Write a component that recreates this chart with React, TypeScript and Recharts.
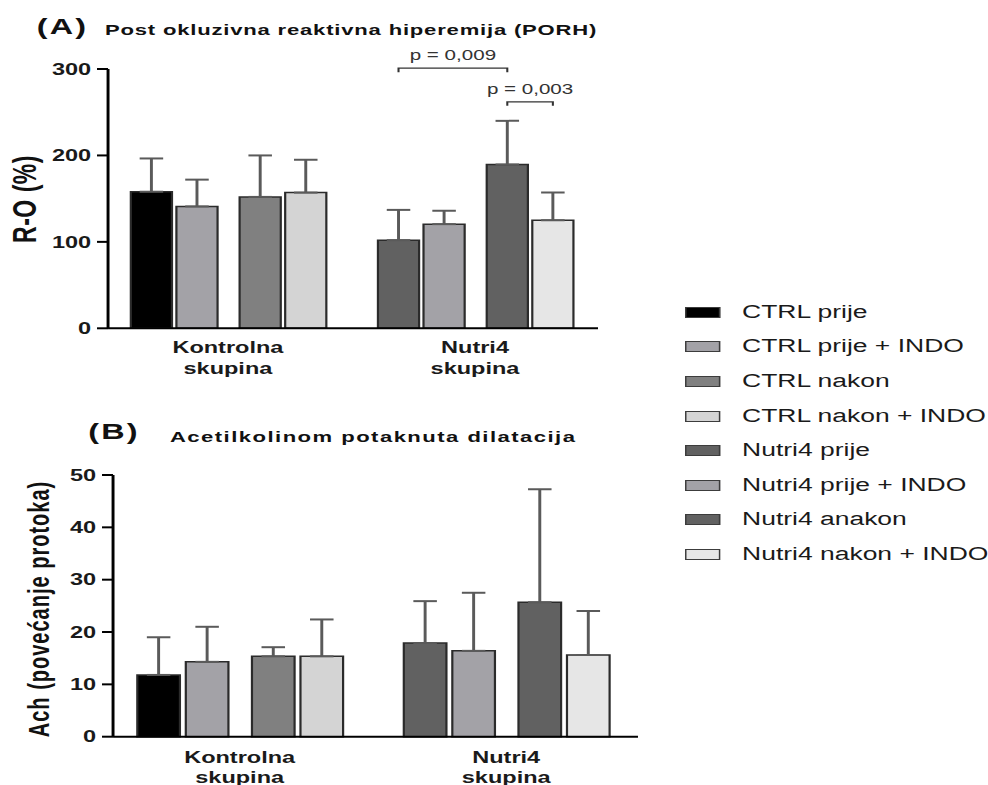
import React from "react"
import { BarChart, Bar, XAxis, YAxis, ErrorBar, Cell, Rectangle } from "recharts"

/* the reference figure is stretched horizontally, so the whole
   layout is drawn narrow and widened with scaleX */
const STRETCH = 1.47
const FONT = '"Liberation Sans", Arial, Helvetica, sans-serif'

/* ---------------------------------
   Data
---------------------------------- */
const groupKeys = ["Kontrolna skupina", "Nutri4 skupina"]
const groupLines = [
  ["Kontrolna", "skupina"],
  ["Nutri4", "skupina"],
]

const ctrlNames = ["CTRL prije", "CTRL prije + INDO", "CTRL nakon", "CTRL nakon + INDO"]
const nutriNames = ["Nutri4 prije", "Nutri4 prije + INDO", "Nutri4 anakon", "Nutri4 nakon + INDO"]
const ctrlColors = ["#000000", "#a3a2a7", "#808080", "#d4d4d4"]
const nutriColors = ["#616161", "#a3a2a7", "#616161", "#e6e6e6"]

// (A) Post okluzivna reaktivna hiperemija, R-O (%)
const porhCtrl = [158, 141, 152, 157]
const porhCtrlSd = [38.5, 31, 48, 38]
const porhNutri = [102, 120.5, 189.5, 125]
const porhNutriSd = [35, 15.5, 50.5, 32]
const porhTicks = [0, 100, 200, 300]

// (B) Acetilkolinom potaknuta dilatacija
const achCtrl = [11.8, 14.3, 15.35, 15.35]
const achCtrlSd = [7.2, 6.7, 1.75, 7.05]
const achNutri = [17.9, 16.4, 25.7, 15.6]
const achNutriSd = [8.0, 11.1, 21.6, 8.4]
const achTicks = [0, 10, 20, 30, 40, 50]

// significance brackets in panel A (Nutri4 group, bar slots)
const porhStats = [
  { from: 0, to: 2, text: "p = 0,009", level: 301 },
  { from: 2, to: 3, text: "p = 0,003", level: 262 },
]

function buildRows(ctrl: number[], ctrlSd: number[], nutri: number[], nutriSd: number[]) {
  return [
    [ctrl, ctrlSd],
    [nutri, nutriSd],
  ].map(([m, sd], g) => {
    const row: Record<string, any> = { group: groupKeys[g] }
    m.forEach((v, i) => {
      row["v" + i] = v
      row["e" + i] = [0, sd[i]]
    })
    return row
  })
}

const porhRows = buildRows(porhCtrl, porhCtrlSd, porhNutri, porhNutriSd)
const achRows = buildRows(achCtrl, achCtrlSd, achNutri, achNutriSd)

/* ---------------------------------
   Axis tick
---------------------------------- */
function GroupTick(props: any) {
  const { x, y, payload, dy1, dy2 } = props
  const lines = groupLines[groupKeys.indexOf(payload.value)] || [payload.value, ""]
  return (
    <text
      x={x}
      y={y}
      textAnchor="middle"
      fontFamily={FONT}
      fontWeight="bold"
      fontSize={16}
      fill="#1a1a1a"
    >
      <tspan x={x} dy={dy1}>
        {lines[0]}
      </tspan>
      <tspan x={x} dy={dy2 - dy1}>
        {lines[1]}
      </tspan>
    </text>
  )
}

/* ---------------------------------
   Panel
---------------------------------- */
type PanelProps = {
  rows: Record<string, any>[]
  ticks: number[]
  width: number
  height: number
  top: number
  right: number
  yWidth: number
  axisHeight: number
  padding: { left: number; right: number }
  barSize: number
  barGap: number
  padSize: number
  dy1: number
  dy2: number
  withStats?: boolean
}

function Panel(p: PanelProps) {
  const slot = (k: number) =>
    k < 2 ? k * (p.barSize + p.barGap) : 2 * (p.barSize + p.barGap) + p.padSize + p.barGap + (k - 2) * (p.barSize + p.barGap)

  const statShape = (props: any) => {
    const { x, y, width, height, index, payload } = props
    const unit = height / payload.v2
    const base = y + height
    const yAt = (v: number) => base - v * unit
    const cx = (k: number) => x - slot(2) + slot(k) + width / 2
    return (
      <g>
        <Rectangle {...props} />
        {index === 1 &&
          porhStats.map((s) => {
            const x1 = cx(s.from)
            const x2 = cx(s.to)
            const yb = yAt(s.level)
            return (
              <g key={s.text}>
                <path
                  d={`M${x1},${yb + 4}V${yb}H${x2}V${yb + 4}`}
                  fill="none"
                  stroke="#333"
                  strokeWidth={1.4}
                />
                <text
                  x={(x1 + x2) / 2}
                  y={yb - 8}
                  textAnchor="middle"
                  fontFamily={FONT}
                  fontSize={14}
                  fill="#333"
                >
                  {s.text}
                </text>
              </g>
            )
          })}
      </g>
    )
  }

  const bar = (i: number) => (
    <Bar
      key={"v" + i}
      dataKey={"v" + i}
      barSize={p.barSize}
      stroke="#2b2b2b"
      strokeWidth={1.5}
      isAnimationActive={false}
      shape={p.withStats && i === 2 ? statShape : undefined}
    >
      {p.rows.map((_, g) => (
        <Cell key={g} fill={g === 0 ? ctrlColors[i] : nutriColors[i]} />
      ))}
      <ErrorBar dataKey={"e" + i} width={8} stroke="#5a5a5a" strokeWidth={2} />
    </Bar>
  )

  return (
    <BarChart
      width={p.width}
      height={p.height}
      data={p.rows}
      margin={{ top: p.top, right: p.right, left: 0, bottom: 0 }}
      barGap={p.barGap}
      barCategoryGap={0}
    >
      <XAxis
        dataKey="group"
        height={p.axisHeight}
        padding={p.padding}
        tickLine={false}
        tickSize={0}
        tickMargin={0}
        interval={0}
        axisLine={{ stroke: "#000", strokeWidth: 2 }}
        tick={<GroupTick dy1={p.dy1} dy2={p.dy2} />}
      />
      <YAxis
        domain={[p.ticks[0], p.ticks[p.ticks.length - 1]]}
        ticks={p.ticks}
        interval={0}
        width={p.yWidth}
        tickSize={7.5}
        tickMargin={4}
        axisLine={{ stroke: "#000", strokeWidth: 2 }}
        tickLine={{ stroke: "#000", strokeWidth: 2 }}
        tick={{ fontFamily: FONT, fontWeight: "bold", fontSize: 16, fill: "#1a1a1a" }}
      />
      {bar(0)}
      {bar(1)}
      <Bar dataKey="pad" barSize={p.padSize} legendType="none" isAnimationActive={false} />
      {bar(2)}
      {bar(3)}
    </BarChart>
  )
}

/* ---------------------------------
   Page
---------------------------------- */
const boldText = { fontFamily: FONT, fontWeight: "bold" as const, color: "#111", whiteSpace: "nowrap" as const }

export default function App() {
  const legendNames = [...ctrlNames, ...nutriNames]
  const legendColors = [...ctrlColors, ...nutriColors]

  return (
    <div
      style={{
        position: "absolute",
        left: 0,
        top: 0,
        width: 988 / STRETCH,
        height: 785,
        overflow: "hidden",
        background: "#fff",
        transform: `scaleX(${STRETCH})`,
        transformOrigin: "0 0",
      }}
    >
      {/* panel A */}
      <div style={{ ...boldText, position: "absolute", left: 25, top: 16, fontSize: 22, lineHeight: "22px", letterSpacing: 1.5 }}>
        (A)
      </div>
      <div style={{ ...boldText, position: "absolute", left: 71.4, top: 22, fontSize: 15, lineHeight: "15px", letterSpacing: 0.55 }}>
        Post okluzivna reaktivna hiperemija (PORH)
      </div>
      <div
        style={{
          ...boldText,
          position: "absolute",
          left: 17,
          top: 198.5,
          fontSize: 23,
          lineHeight: "23px",
          letterSpacing: 0.5,
          transform: "translate(-50%, -50%) rotate(-90deg)",
        }}
      >
        R-O (%)
      </div>
      <div style={{ position: "absolute", left: 0, top: 0 }}>
        <Panel
          rows={porhRows}
          ticks={porhTicks}
          width={420}
          height={390}
          top={69}
          right={13.2}
          yWidth={73.5}
          axisHeight={61.7}
          padding={{ left: -2.5, right: -0.4 }}
          barSize={28}
          barGap={3}
          padSize={9}
          dy1={25}
          dy2={46}
          withStats
        />
      </div>

      {/* panel B */}
      <div style={{ ...boldText, position: "absolute", left: 60, top: 421, fontSize: 22, lineHeight: "22px", letterSpacing: 1.5 }}>
        (B)
      </div>
      <div style={{ ...boldText, position: "absolute", left: 115.6, top: 429, fontSize: 15, lineHeight: "15px", letterSpacing: 1 }}>
        Acetilkolinom potaknuta dilatacija
      </div>
      <div
        style={{
          ...boldText,
          position: "absolute",
          left: 26,
          top: 609,
          fontSize: 20,
          lineHeight: "20px",
          letterSpacing: 1,
          transform: "translate(-50%, -50%) rotate(-90deg)",
        }}
      >
        Ach (povećanje protoka)
      </div>
      <div style={{ position: "absolute", left: 0, top: 400 }}>
        <Panel
          rows={achRows}
          ticks={achTicks}
          width={445}
          height={385}
          top={75}
          right={11}
          yWidth={76.9}
          axisHeight={48.3}
          padding={{ left: -4.5, right: -1 }}
          barSize={29}
          barGap={4}
          padSize={8}
          dy1={26}
          dy2={46}
        />
      </div>

      {/* legend */}
      <div style={{ position: "absolute", left: 466, top: 295 }}>
        {legendNames.map((name, i) => (
          <div key={name} style={{ display: "flex", alignItems: "center", height: 34.6 }}>
            <div
              style={{
                width: 24,
                height: 11,
                boxSizing: "border-box",
                border: "1.4px solid #3c3c3c",
                background: legendColors[i],
                marginRight: 14.8,
              }}
            />
            <span style={{ fontFamily: FONT, fontSize: 18, color: "#1a1a1a", whiteSpace: "nowrap" }}>{name}</span>
          </div>
        ))}
      </div>
    </div>
  )
}
